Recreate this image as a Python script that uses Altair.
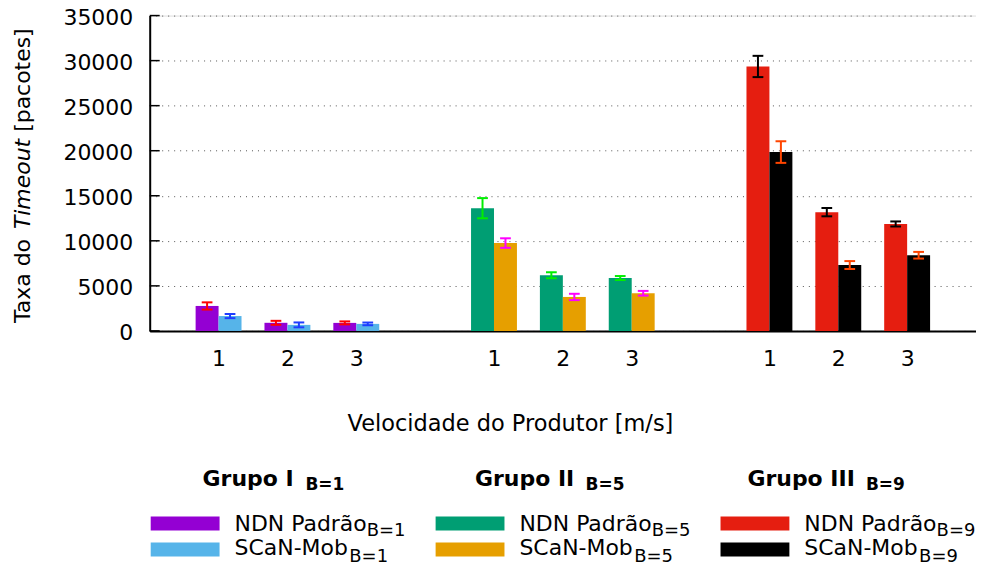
import altair as alt
import pandas as pd

FONT = "DejaVu Sans"

# ---------------- data ----------------
speeds = ["1", "2", "3"]
group_names = ["Grupo I", "Grupo II", "Grupo III"]
group_subs = ["B=1", "B=5", "B=9"]
series_names = ["NDN Padrão", "SCaN-Mob"]

ndn_g1 = [2770, 900, 890]
ndn_g1_err = [400, 220, 165]
scan_g1 = [1650, 670, 780]
scan_g1_err = [230, 270, 150]

ndn_g2 = [13620, 6180, 5870]
ndn_g2_err = [1120, 330, 220]
scan_g2 = [9750, 3770, 4180]
scan_g2_err = [530, 350, 260]

ndn_g3 = [29350, 13180, 11870]
ndn_g3_err = [1180, 460, 280]
scan_g3 = [19850, 7310, 8400]
scan_g3_err = [1200, 440, 370]

y_ticks = [0, 5000, 10000, 15000, 20000, 25000, 30000, 35000]

bar_colors = ["#9400d3", "#56b4e9", "#009e73", "#e69f00", "#e51e10", "#000000"]
err_colors = ["#ff0000", "#1f3dff", "#00ee00", "#ff00ff", "#000000", "#ff4500"]

# ---------------- build tables ----------------
values = [(ndn_g1, ndn_g1_err, scan_g1, scan_g1_err),
          (ndn_g2, ndn_g2_err, scan_g2, scan_g2_err),
          (ndn_g3, ndn_g3_err, scan_g3, scan_g3_err)]

rows = []
tick_pos = []
for g, (nv, ne, sv, se) in enumerate(values):
    for i in range(len(speeds)):
        pos = 1 + 4 * g + i
        tick_pos.append(pos)
        for k, (vals, errs) in enumerate([(nv, ne), (sv, se)]):
            x0 = pos - 1 / 3 + k / 3
            key = f"{series_names[k]} {group_subs[g]}"
            rows.append({
                "x0": x0, "x1": x0 + 1 / 3, "xc": x0 + 1 / 6,
                "cl": x0 + 1 / 6 - 0.078, "cr": x0 + 1 / 6 + 0.078,
                "value": vals[i], "base": 0,
                "lo": vals[i] - errs[i], "hi": vals[i] + errs[i],
                "key": key,
            })
df = pd.DataFrame(rows)
keys = list(dict.fromkeys(df["key"]))

xs = alt.Scale(domain=[0, 12], nice=False, zero=False)
ys = alt.Scale(domain=[0, 35000], nice=False)

label_js = "[" + ",".join(f"'{s}'" for s in speeds) + "]"

bars = alt.Chart(df).mark_bar().encode(
    x=alt.X("x0:Q", scale=xs, title=None, axis=alt.Axis(
        values=tick_pos, labelExpr=f"{label_js}[(datum.value - 1) % 4]")),
    x2="x1:Q",
    y=alt.Y("value:Q", scale=ys, title=None, axis=alt.Axis(values=y_ticks, format="d")),
    y2="base:Q",
    color=alt.Color("key:N", scale=alt.Scale(domain=keys, range=bar_colors), legend=None),
)

err_scale = alt.Scale(domain=keys, range=err_colors)
err_v = alt.Chart(df).mark_rule(strokeWidth=2).encode(
    x=alt.X("xc:Q", scale=xs, title=None),
    y=alt.Y("lo:Q", scale=ys, title=None), y2="hi:Q",
    color=alt.Color("key:N", scale=err_scale, legend=None),
)
err_lo = alt.Chart(df).mark_rule(strokeWidth=2).encode(
    x=alt.X("cl:Q", scale=xs, title=None), x2="cr:Q",
    y=alt.Y("lo:Q", scale=ys, title=None),
    color=alt.Color("key:N", scale=err_scale, legend=None),
)
err_hi = alt.Chart(df).mark_rule(strokeWidth=2).encode(
    x=alt.X("cl:Q", scale=xs, title=None), x2="cr:Q",
    y=alt.Y("hi:Q", scale=ys, title=None),
    color=alt.Color("key:N", scale=err_scale, legend=None),
)

yticks_in = alt.Chart(pd.DataFrame({"v": y_ticks})).mark_rule(
    color="black", strokeWidth=1.5).encode(
    y=alt.Y("v:Q", scale=ys, title=None),
    x=alt.value(0), x2=alt.value(10),
)


def txt(s, x, y, size=22, weight="normal", style="normal", align="left",
        angle=0, baseline="alphabetic"):
    return alt.Chart(pd.DataFrame({"t": [s]})).mark_text(
        align=align, baseline=baseline, fontSize=size, fontWeight=weight,
        fontStyle=style, angle=angle, color="black", font=FONT,
    ).encode(x=alt.value(x), y=alt.value(y), text="t:N")


def swatch(color, x, y):
    return alt.Chart(pd.DataFrame({"c": [color]})).mark_rect(color=color).encode(
        x=alt.value(x), x2=alt.value(x + 69), y=alt.value(y), y2=alt.value(y + 14))


layers = [bars, err_v, err_lo, err_hi, yticks_in]

# y title (with italic word)
layers.append(txt("Taxa do", -120, 308, angle=270))
layers.append(txt("Timeout", -120, 214, angle=270, style="italic"))
layers.append(txt("[pacotes]", -120, 116.5, angle=270))

# x title
layers.append(txt("Velocidade do Produtor [m/s]", 361.5, 416, align="center", size=22.5))

# legend
title_x = [53, 326, 599]
title_sub_dx = [103, 110.7, 118.7]
sw_x = [1, 286.5, 572]
for g in range(3):
    layers.append(txt(group_names[g], title_x[g], 471, weight="bold"))
    layers.append(txt(group_subs[g], title_x[g] + title_sub_dx[g], 475, size=17, weight="bold"))
    layers.append(swatch(bar_colors[2 * g], sw_x[g], 502))
    layers.append(swatch(bar_colors[2 * g + 1], sw_x[g], 528))
    tx = sw_x[g] + 84
    layers.append(txt(series_names[0], tx, 516))
    layers.append(txt(group_subs[g], tx + 132.5, 522, size=18))
    layers.append(txt(series_names[1], tx, 541))
    layers.append(txt(group_subs[g], tx + 115, 548, size=18))

chart = alt.layer(*layers).resolve_scale(color="independent").properties(
    width=828, height=316,
    autosize=alt.AutoSizeParams(type="none"),
    padding={"left": 142, "top": 7, "right": 0, "bottom": 240},
).configure_view(stroke=None).configure(font=FONT).configure_axisX(
    labelFontSize=22, labelFont=FONT, labelColor="black",
    labelBaseline="alphabetic", labelPadding=35, labelAngle=0,
    ticks=False, tickSize=0, grid=False, domain=True,
    domainColor="black", domainWidth=2, zindex=1,
).configure_axisY(
    labelFontSize=22, labelFont=FONT, labelColor="black", labelPadding=17,
    labelOffset=2,
    ticks=False, tickSize=0, domain=True, domainColor="black", domainWidth=2,
    grid=True, gridDash=[1, 5], gridColor="#555555", gridWidth=1, zindex=0,
)

chart.save("out.html", embed_options={"renderer": "svg", "actions": False})
